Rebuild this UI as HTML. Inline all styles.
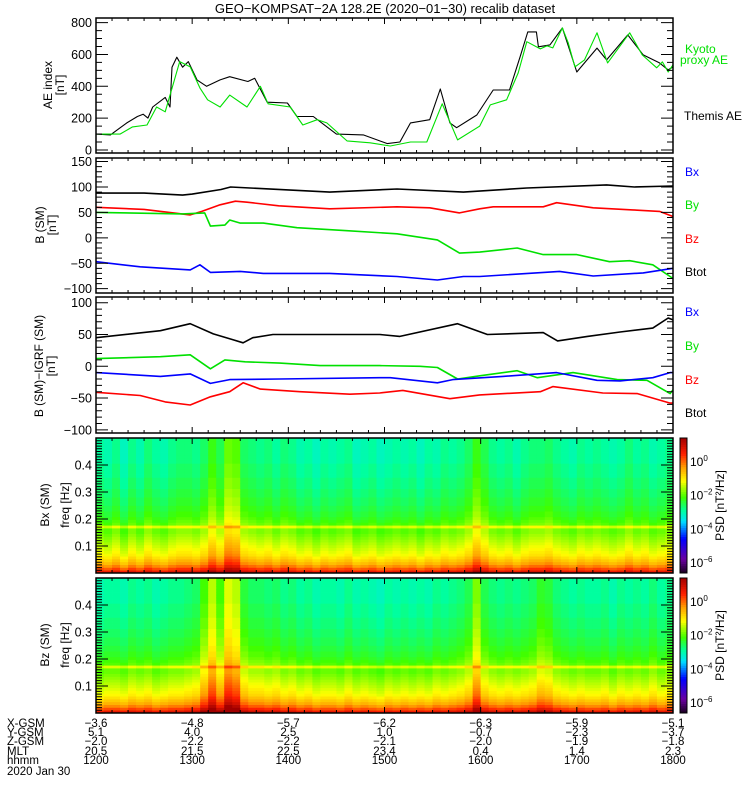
<!DOCTYPE html>
<html><head><meta charset="utf-8">
<style>
html,body{margin:0;padding:0;background:#fff;}
svg{display:block;font-family:"Liberation Sans",sans-serif;}
</style></head>
<body>
<svg id="chart" width="750" height="800" viewBox="0 0 750 800" xmlns="http://www.w3.org/2000/svg">
<text x="385" y="13" font-size="13" text-anchor="middle">GEO−KOMPSAT−2A 128.2E (2020−01−30) recalib dataset</text>
<g id="g"></g>
</svg>
<script>
// ---- data ----
const aeThemisT=[12.0,12.15,12.32,12.43,12.49,12.54,12.59,12.72,12.77,12.79,12.84,12.9,12.96,13.05,13.15,13.29,13.39,13.58,13.65,13.78,13.99,14.09,14.26,14.5,14.78,15.03,15.16,15.27,15.47,15.58,15.68,15.75,15.96,16.13,16.3,16.41,16.49,16.58,16.6,16.72,16.85,17.0,17.21,17.31,17.53,17.69,17.86,17.95,18.0];
const aeThemisV=[100,95,170,210,225,200,270,330,270,520,583,520,555,440,400,440,460,430,450,300,295,210,210,100,95,40,50,170,190,383,170,140,220,377,377,585,742,742,648,660,767,490,640,566,723,597,547,503,522];
const aeKyotoT=[12.0,12.25,12.38,12.53,12.63,12.72,12.87,12.98,13.08,13.16,13.29,13.39,13.57,13.71,13.79,14.02,14.15,14.3,14.4,14.61,14.85,15.06,15.27,15.44,15.6,15.76,15.99,16.1,16.27,16.39,16.48,16.62,16.69,16.75,16.85,16.91,16.98,17.08,17.21,17.32,17.55,17.68,17.83,17.89,17.95,18.0];
const aeKyotoV=[100,100,145,157,270,240,555,522,390,315,270,345,270,400,290,270,157,190,170,57,45,25,50,50,290,63,150,283,315,484,680,635,654,641,767,673,522,566,736,547,736,597,516,553,490,535];

const smBtotT=[12,12.5,12.9,13.0,13.3,13.4,14.43,15.13,15.82,16.48,17.31,17.6,18];
const smBtotV=[88,88,84,86,95,100,90,96,90,98,104,100,102];
const smBzT=[12,12.5,12.98,13.1,13.29,13.45,13.57,13.9,14.43,15.13,15.47,15.78,15.99,16.13,16.65,16.79,17.17,17.58,17.86,18];
const smBzV=[60,56,45,52,65,72,70,63,57,61,59,49,57,61,61,69,59,55,52,42];
const smByT=[12,12.9,13.13,13.19,13.34,13.39,13.5,13.74,14.09,14.61,15.13,15.55,15.78,15.99,16.38,16.65,17.0,17.34,17.55,17.79,17.97,18];
const smByV=[50,47,49,23,25,35,29,29,20,14,8,-4,-30,-28,-20,-33,-33,-47,-45,-53,-76,-80];
const smBxT=[12,12.46,12.98,13.08,13.19,13.5,13.74,14.43,15.13,15.55,15.82,15.99,16.82,17.17,17.69,18];
const smBxV=[-47,-57,-63,-53,-68,-66,-70,-70,-76,-83,-76,-76,-66,-75,-69,-60];

const dBtotT=[12,12.67,12.98,13.22,13.42,13.53,13.63,13.84,14.46,14.95,15.16,15.76,16.07,16.65,16.8,17.11,17.45,17.79,17.95,18];
const dBtotV=[45,56,67,51,42,37,45,50,50,50,47,67,50,53,40,47,54,60,76,73];
const dByT=[12,12.67,12.98,13.19,13.34,13.55,13.91,14.33,14.95,15.37,15.55,15.76,15.99,16.38,16.59,16.96,17.42,17.73,17.97,18];
const dByV=[12,15,18,-4,10,7,5,1,1,0,-2,-20,-15,-7,-18,-10,-21,-22,-43,-37];
const dBxT=[12,12.67,12.98,13.19,13.39,13.91,14.95,15.06,15.55,15.71,16.23,16.79,17.21,17.45,17.79,17.97,18];
const dBxV=[-10,-16,-12,-27,-21,-20,-18,-18,-26,-21,-16,-10,-22,-23,-18,-10,-10];
const dBzT=[12,12.46,12.72,12.98,13.19,13.39,13.53,13.71,14.12,14.64,14.95,15.19,15.68,15.99,16.62,16.75,17.27,17.63,17.97,18];
const dBzV=[-41,-46,-56,-61,-48,-40,-26,-36,-40,-44,-42,-38,-51,-45,-40,-32,-42,-43,-58,-58];

// spectrogram: log10 PSD row profile (48 freq rows, 0 -> 0.5 Hz) and per-column boosts (72 cols, 5 min each)
const specRowProfile=[0.6,0.1,-0.3,-0.6,-0.8,-1.0,-1.2,-1.3,-1.4,-1.5,-1.6,-1.7,-1.8,-1.9,-2.0,-2.0,-1.4,-2.1,-2.2,-2.3,-2.4,-2.4,-2.5,-2.5,-2.6,-2.6,-2.6,-2.7,-2.7,-2.7,-2.8,-2.8,-2.8,-2.8,-2.9,-2.9,-2.9,-2.9,-2.9,-3.0,-3.0,-3.0,-3.0,-3.0,-3.0,-3.0,-3.0,-3.0];
const specBxCols=[0.1,0,0.2,-0.1,0.2,0,0.3,0.1,0,0.2,0.3,0.3,0.2,0.4,0.8,0.5,1.1,1.0,0.4,0.3,0.2,0.3,0.1,0.3,0.2,0,0.1,-0.1,0.1,0,0.1,0.2,-0.1,0,0.1,-0.1,0,0.1,0,0.1,-0.1,0.1,0,0.2,0.1,0.2,0.4,0.8,0.5,0.2,0.1,0.2,0,0.2,0.3,0.3,0.4,0.2,0.1,0,0.2,0.1,0.2,0.1,0,0.1,0.3,0.1,0.2,0,0.1,0.2];
const specBzCols=[0,0.1,0.1,0,0.2,0.1,0.2,0,0.1,0.2,0.2,0.3,0.4,0.9,1.5,0.9,1.7,1.5,0.6,0.4,0.4,0.3,0.4,0.2,0.3,0.1,0.2,0,0.1,0.1,0,0.2,0,0.1,0,-0.1,0.1,0,0.1,0,0.1,0,0.2,0.1,0.2,0.3,0.5,1.2,0.5,0.3,0.2,0.3,0.2,0.3,0.4,0.7,0.6,0.3,0.2,0.1,0.2,0.1,0.1,0.2,0,0.2,0.1,0.2,0.1,0.3,0.1,0.2];

const hourLabels=["1200","1300","1400","1500","1600","1700","1800"];
const xgsm=["−3.6","−4.8","−5.7","−6.2","−6.3","−5.9","−5.1"];
const ygsm=["5.1","4.0","2.5","1.0","−0.7","−2.3","−3.7"];
const zgsm=["−2.0","−2.2","−2.2","−2.1","−2.0","−1.9","−1.8"];
const mlt=["20.5","21.5","22.5","23.4","0.4","1.4","2.3"];

// ---- layout ----
const X0=96,X1=673;
const xs=t=>X0+(t-12)/6*(X1-X0);
const NS="http://www.w3.org/2000/svg";
const G=document.getElementById('g');
function el(tag,attrs,parent){const e=document.createElementNS(NS,tag);for(const k in attrs)e.setAttribute(k,attrs[k]);(parent||G).appendChild(e);return e;}
function txt(x,y,s,attrs){const e=el('text',Object.assign({x:x,y:y,'font-size':12},attrs||{}));e.textContent=s;return e;}

const panels=[
 {top:18,bot:153,vmin:-19,vmax:829},
 {top:158,bot:293,vmin:-108.5,vmax:157},
 {top:297,bot:433,vmin:-105,vmax:109},
 {top:438,bot:573,vmin:0,vmax:0.5},
 {top:578,bot:713,vmin:0,vmax:0.5}
];
panels.forEach(p=>{p.y=v=>p.bot-(v-p.vmin)/(p.vmax-p.vmin)*(p.bot-p.top);});

// colormap
const stops=[[0,[26,0,32]],[0.1,[106,0,160]],[0.25,[0,0,255]],[0.38,[0,224,255]],[0.46,[0,255,160]],[0.56,[64,255,0]],[0.68,[255,255,0]],[0.78,[255,160,0]],[0.88,[255,32,0]],[1,[160,0,0]]];
const CMIN=-6.6,CMAX=1.43;
function cmap(v){let n=(v-CMIN)/(CMAX-CMIN);n=Math.max(0,Math.min(1,n));
 for(let i=1;i<stops.length;i++){if(n<=stops[i][0]){const a=stops[i-1],b=stops[i];const f=(n-a[0])/(b[0]-a[0]);
  const c=a[1].map((q,j)=>Math.round(q+(b[1][j]-q)*f));return `rgb(${c[0]},${c[1]},${c[2]})`;}}return 'rgb(160,0,0)';}

// spectrograms
function drawSpec(p,cols,name){
 const g=el('g',{});
 
 
 const nc=cols.length,nr=specRowProfile.length;
 for(let k=0;k<nc;k++){const xa=xs(12+k*6/nc),xb=xs(12+(k+1)*6/nc);
  for(let r=0;r<nr;r++){const ya=p.y((r+1)*0.5/nr),yb=p.y(r*0.5/nr);
   const rc=el('rect',{x:xa.toFixed(2),y:ya.toFixed(2),width:(xb-xa+0.4).toFixed(2),height:(yb-ya+0.4).toFixed(2),fill:cmap(specRowProfile[r]+cols[k])},g);
   
   
  }}
}
drawSpec(panels[3],specBxCols,'bx-spectrogram');
drawSpec(panels[4],specBzCols,'bz-spectrogram');

// lines
function line(p,T,V,color,w,name){
 let d='';T.forEach((t,i)=>{d+=(i?'L':'M')+xs(t).toFixed(1)+' '+p.y(V[i]).toFixed(1);});
 const e=el('path',{d:d,fill:'none',stroke:color,'stroke-width':w,'stroke-linejoin':'round'});
 
 
}
line(panels[0],aeThemisT,aeThemisV,'#000',1.1,'themis-ae-line');
line(panels[0],aeKyotoT,aeKyotoV,'#00e000',1.1,'kyoto-ae-line');
line(panels[1],smBtotT,smBtotV,'#000',1.6,'sm-btot-line');
line(panels[1],smBzT,smBzV,'#ff0000',1.6,'sm-bz-line');
line(panels[1],smByT,smByV,'#00e000',1.6,'sm-by-line');
line(panels[1],smBxT,smBxV,'#0000ff',1.6,'sm-bx-line');
line(panels[2],dBtotT,dBtotV,'#000',1.6,'igrf-btot-line');
line(panels[2],dByT,dByV,'#00e000',1.6,'igrf-by-line');
line(panels[2],dBxT,dBxV,'#0000ff',1.6,'igrf-bx-line');
line(panels[2],dBzT,dBzV,'#ff0000',1.6,'igrf-bz-line');

// frames, ticks
function frame(p,i,yMaj,yMin,fmt){
 const f=el('rect',{x:X0,y:p.top,width:X1-X0,height:p.bot-p.top,fill:'none',stroke:'#000','stroke-width':1.5});
 
 
 let d='';
 for(let m=0;m<=36;m++){const x=xs(12+m/6);const L=(m%6==0)?6:3;d+=`M${x} ${p.top}v${L}M${x} ${p.bot}v${-L}`;}
 for(let v=Math.ceil(p.vmin/yMin)*yMin;v<=p.vmax+1e-9;v+=yMin){const y=p.y(v);const maj=Math.abs(v/yMaj-Math.round(v/yMaj))<1e-6;const L=maj?12:6;d+=`M${X0} ${y}h${L}M${X1} ${y}h${-L}`;}
 el('path',{d:d,stroke:'#000','stroke-width':1,fill:'none'});
 for(let v=Math.ceil(p.vmin/yMaj)*yMaj;v<=p.vmax+1e-9;v+=yMaj){if(fmt(v)==null)continue;
  const t=txt(X0-4,p.y(v)+4.5,fmt(v),{'text-anchor':'end','font-size':12.5});
  
  }
}
frame(panels[0],0,200,50,v=>String(v));
frame(panels[1],1,50,10,v=>String(v).replace('-','−'));
frame(panels[2],2,50,10,v=>String(v).replace('-','−'));
frame(panels[3],3,0.1,0.01,v=>(v<0.05||v>0.45)?null:v.toFixed(1));
frame(panels[4],4,0.1,0.01,v=>(v<0.05||v>0.45)?null:v.toFixed(1));

// y titles
function ytitle(x,y,s,name){const t=txt(x,y,s,{transform:`rotate(-90 ${x} ${y})`,'text-anchor':'middle','font-size':12});
 
 }
ytitle(52,85,'AE index','ae-axis-title');ytitle(64,85,'[nT]','ae-axis-unit');
ytitle(44,225,'B (SM)','b-axis-title');ytitle(56,225,'[nT]','b-axis-unit');
ytitle(43,366,'B (SM)−IGRF (SM)','db-axis-title');ytitle(55,366,'[nT]','db-axis-unit');
ytitle(49,505,'Bx (SM)','bx-spec-title');ytitle(69,505,'freq [Hz]','bx-freq-title');
ytitle(49,645,'Bz (SM)','bz-spec-title');ytitle(69,645,'freq [Hz]','bz-freq-title');

// legends
function leg(x,y,s,c,name){const t=txt(x,y,s,{fill:c,'font-size':12});
 
 }
leg(685,53,'Kyoto','#00e000','legend-kyoto');leg(680,64,'proxy AE','#00e000','legend-kyoto-2');
leg(684,120,'Themis AE','#000','legend-themis');
leg(685,176,'Bx','#0000ff','legend-sm-bx');leg(685,209,'By','#00e000','legend-sm-by');
leg(685,243,'Bz','#ff0000','legend-sm-bz');leg(685,276,'Btot','#000','legend-sm-btot');
leg(685,316,'Bx','#0000ff','legend-igrf-bx');leg(685,350,'By','#00e000','legend-igrf-by');
leg(685,384,'Bz','#ff0000','legend-igrf-bz');leg(685,417,'Btot','#000','legend-igrf-btot');

// colorbars
[panels[3],panels[4]].forEach((p,i)=>{
 const cb=el('g',{});
 
 
 const n=60;for(let k=0;k<n;k++){const ya=p.top+k*(p.bot-p.top)/n;
  el('rect',{x:680,y:ya.toFixed(2),width:7,height:((p.bot-p.top)/n+0.5).toFixed(2),fill:cmap(CMAX-(k+0.5)/n*(CMAX-CMIN))},cb);}
 el('rect',{x:680,y:p.top,width:7,height:p.bot-p.top,fill:'none',stroke:'#000','stroke-width':1},cb);
 [[0,'0'],[-2,'−2'],[-4,'−4'],[-6,'−6']].forEach(([v,s])=>{
  const y=p.top+(CMAX-v)/(CMAX-CMIN)*(p.bot-p.top)+4;
  const t=txt(690,y,'10',{'font-size':12});
  
  
  const s2=el('tspan',{dy:-5,'font-size':8},t);s2.textContent=s;});
 ytitle(724,p.top+(p.bot-p.top)/2,'PSD [nT²/Hz]','psd-axis-title');
});

// bottom annotation
const rows=[['X-GSM',xgsm,727],['Y-GSM',ygsm,736],['Z-GSM',zgsm,745],['MLT',mlt,755],['hhmm',hourLabels,764]];
rows.forEach(([lab,arr,y])=>{
 const t=txt(7,y,lab,{'font-size':11.5});
 
 
 arr.forEach((s,i)=>{const v=txt(xs(12+i),y,s,{'text-anchor':'middle','font-size':11.5});
  
  });
});
const dt=txt(7,775,'2020 Jan 30',{'font-size':11.5});


</script>
</body></html>
